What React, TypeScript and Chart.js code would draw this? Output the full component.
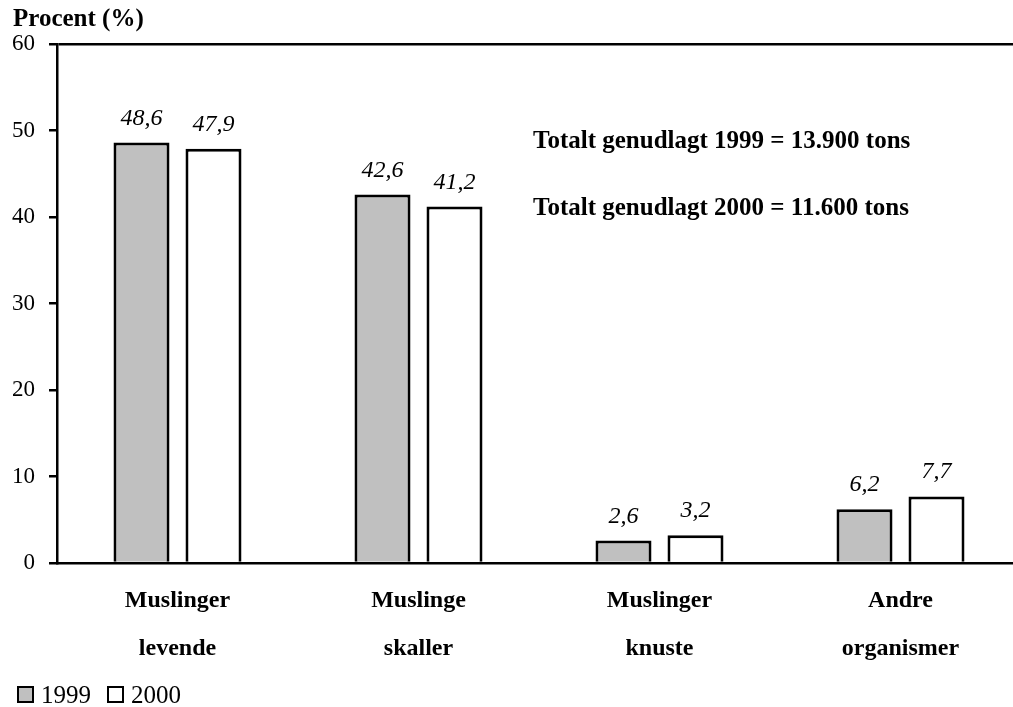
import React, { useEffect, useRef } from 'react';
import { Chart, registerables } from 'chart.js';

Chart.register(...registerables);

const categories: string[][] = [
  ['Muslinger', 'levende'],
  ['Muslinge', 'skaller'],
  ['Muslinger', 'knuste'],
  ['Andre', 'organismer'],
];
const values1999 = [48.6, 42.6, 2.6, 6.2];
const values2000 = [47.9, 41.2, 3.2, 7.7];
const seriesNames = ['1999', '2000'];
const seriesColors = ['#c0c0c0', '#ffffff'];
const yMin = 0;
const yMax = 60;
const yStep = 10;
const yTitle = 'Procent (%)';
const notes = ['Totalt genudlagt 1999 = 13.900 tons', 'Totalt genudlagt 2000 = 11.600 tons'];

const FONT = "'Liberation Serif', 'Times New Roman', serif";

const fmt = (v: number) => v.toFixed(1).replace('.', ',');

const decorPlugin = {
  id: 'decor',
  afterDatasetsDraw(chart: any) {
    const ctx = chart.ctx;
    ctx.save();
    ctx.fillStyle = '#000';
    ctx.font = `italic 24px ${FONT}`;
    ctx.textAlign = 'center';
    ctx.textBaseline = 'alphabetic';
    chart.data.datasets.forEach((ds: any, di: number) => {
      const meta = chart.getDatasetMeta(di);
      meta.data.forEach((bar: any, i: number) => {
        ctx.fillText(fmt(ds.data[i]), bar.x, bar.y - 18);
      });
    });
    ctx.restore();
  },
  afterDraw(chart: any) {
    const ctx = chart.ctx;
    ctx.save();
    ctx.fillStyle = '#000';
    ctx.textBaseline = 'alphabetic';
    ctx.textAlign = 'left';
    // axis title
    ctx.font = `bold 25px ${FONT}`;
    ctx.fillText(yTitle, 13, 26);
    // notes
    ctx.font = `bold 25px ${FONT}`;
    ctx.fillText(notes[0], 533, 148);
    ctx.fillText(notes[1], 533, 215);
    // legend
    ctx.font = `25px ${FONT}`;
    let x = 18;
    seriesNames.forEach((name, i) => {
      ctx.fillStyle = seriesColors[i];
      ctx.fillRect(x, 687, 15, 15);
      ctx.strokeStyle = '#000';
      ctx.lineWidth = 2;
      ctx.strokeRect(x, 687, 15, 15);
      ctx.fillStyle = '#000';
      ctx.fillText(name, x + 23, 703);
      x += ctx.measureText(name).width + 40;
    });
    ctx.restore();
  },
};

export default function App() {
  const ref = useRef<HTMLCanvasElement | null>(null);

  useEffect(() => {
    if (!ref.current) return;
    const chart = new Chart(ref.current, {
      type: 'bar',
      data: {
        labels: categories,
        datasets: [
          {
            label: seriesNames[0],
            data: values1999,
            backgroundColor: seriesColors[0],
            borderColor: '#000',
            borderWidth: 3,
            categoryPercentage: 0.5975,
            barPercentage: 0.778,
          },
          {
            label: seriesNames[1],
            data: values2000,
            backgroundColor: seriesColors[1],
            borderColor: '#000',
            borderWidth: 3,
            categoryPercentage: 0.5975,
            barPercentage: 0.778,
          },
        ],
      },
      options: {
        animation: false,
        responsive: false,
        devicePixelRatio: 1,
        layout: { padding: { top: 44, left: 0, right: 0, bottom: 0 } },
        plugins: {
          legend: { display: false },
          tooltip: { enabled: false },
          title: { display: false },
        },
        scales: {
          x: {
            offset: true,
            grid: { display: true, color: 'rgba(0,0,0,0)', drawTicks: false },
            border: { display: true, color: '#000', width: 2.5 },
            ticks: {
              color: '#000',
              font: { family: FONT, size: 24, weight: 'bold', lineHeight: 2 },
              padding: 14,
              maxRotation: 0,
              autoSkip: false,
            },
            afterFit: (s: any) => {
              s.height = 144;
            },
          },
          y: {
            min: yMin,
            max: yMax,
            ticks: {
              stepSize: yStep,
              color: '#000',
              font: { family: FONT, size: 23 },
              padding: 14,
            },
            grid: {
              color: (c: any) => (c.tick && c.tick.value === yMax ? '#000' : 'rgba(0,0,0,0)'),
              tickColor: '#000',
              tickLength: 8,
              lineWidth: 2.5,
            },
            border: { display: true, color: '#000', width: 2.5 },
            afterFit: (s: any) => {
              s.width = 57;
            },
          },
        },
      },
      plugins: [decorPlugin],
    });
    return () => chart.destroy();
  }, []);

  return (
    <div
      style={{
        position: 'fixed',
        left: 0,
        top: 0,
        width: 1013,
        height: 707,
        overflow: 'hidden',
        background: '#fff',
      }}
    >
      <canvas ref={ref} width={1021} height={707} style={{ display: 'block' }} />
    </div>
  );
}
